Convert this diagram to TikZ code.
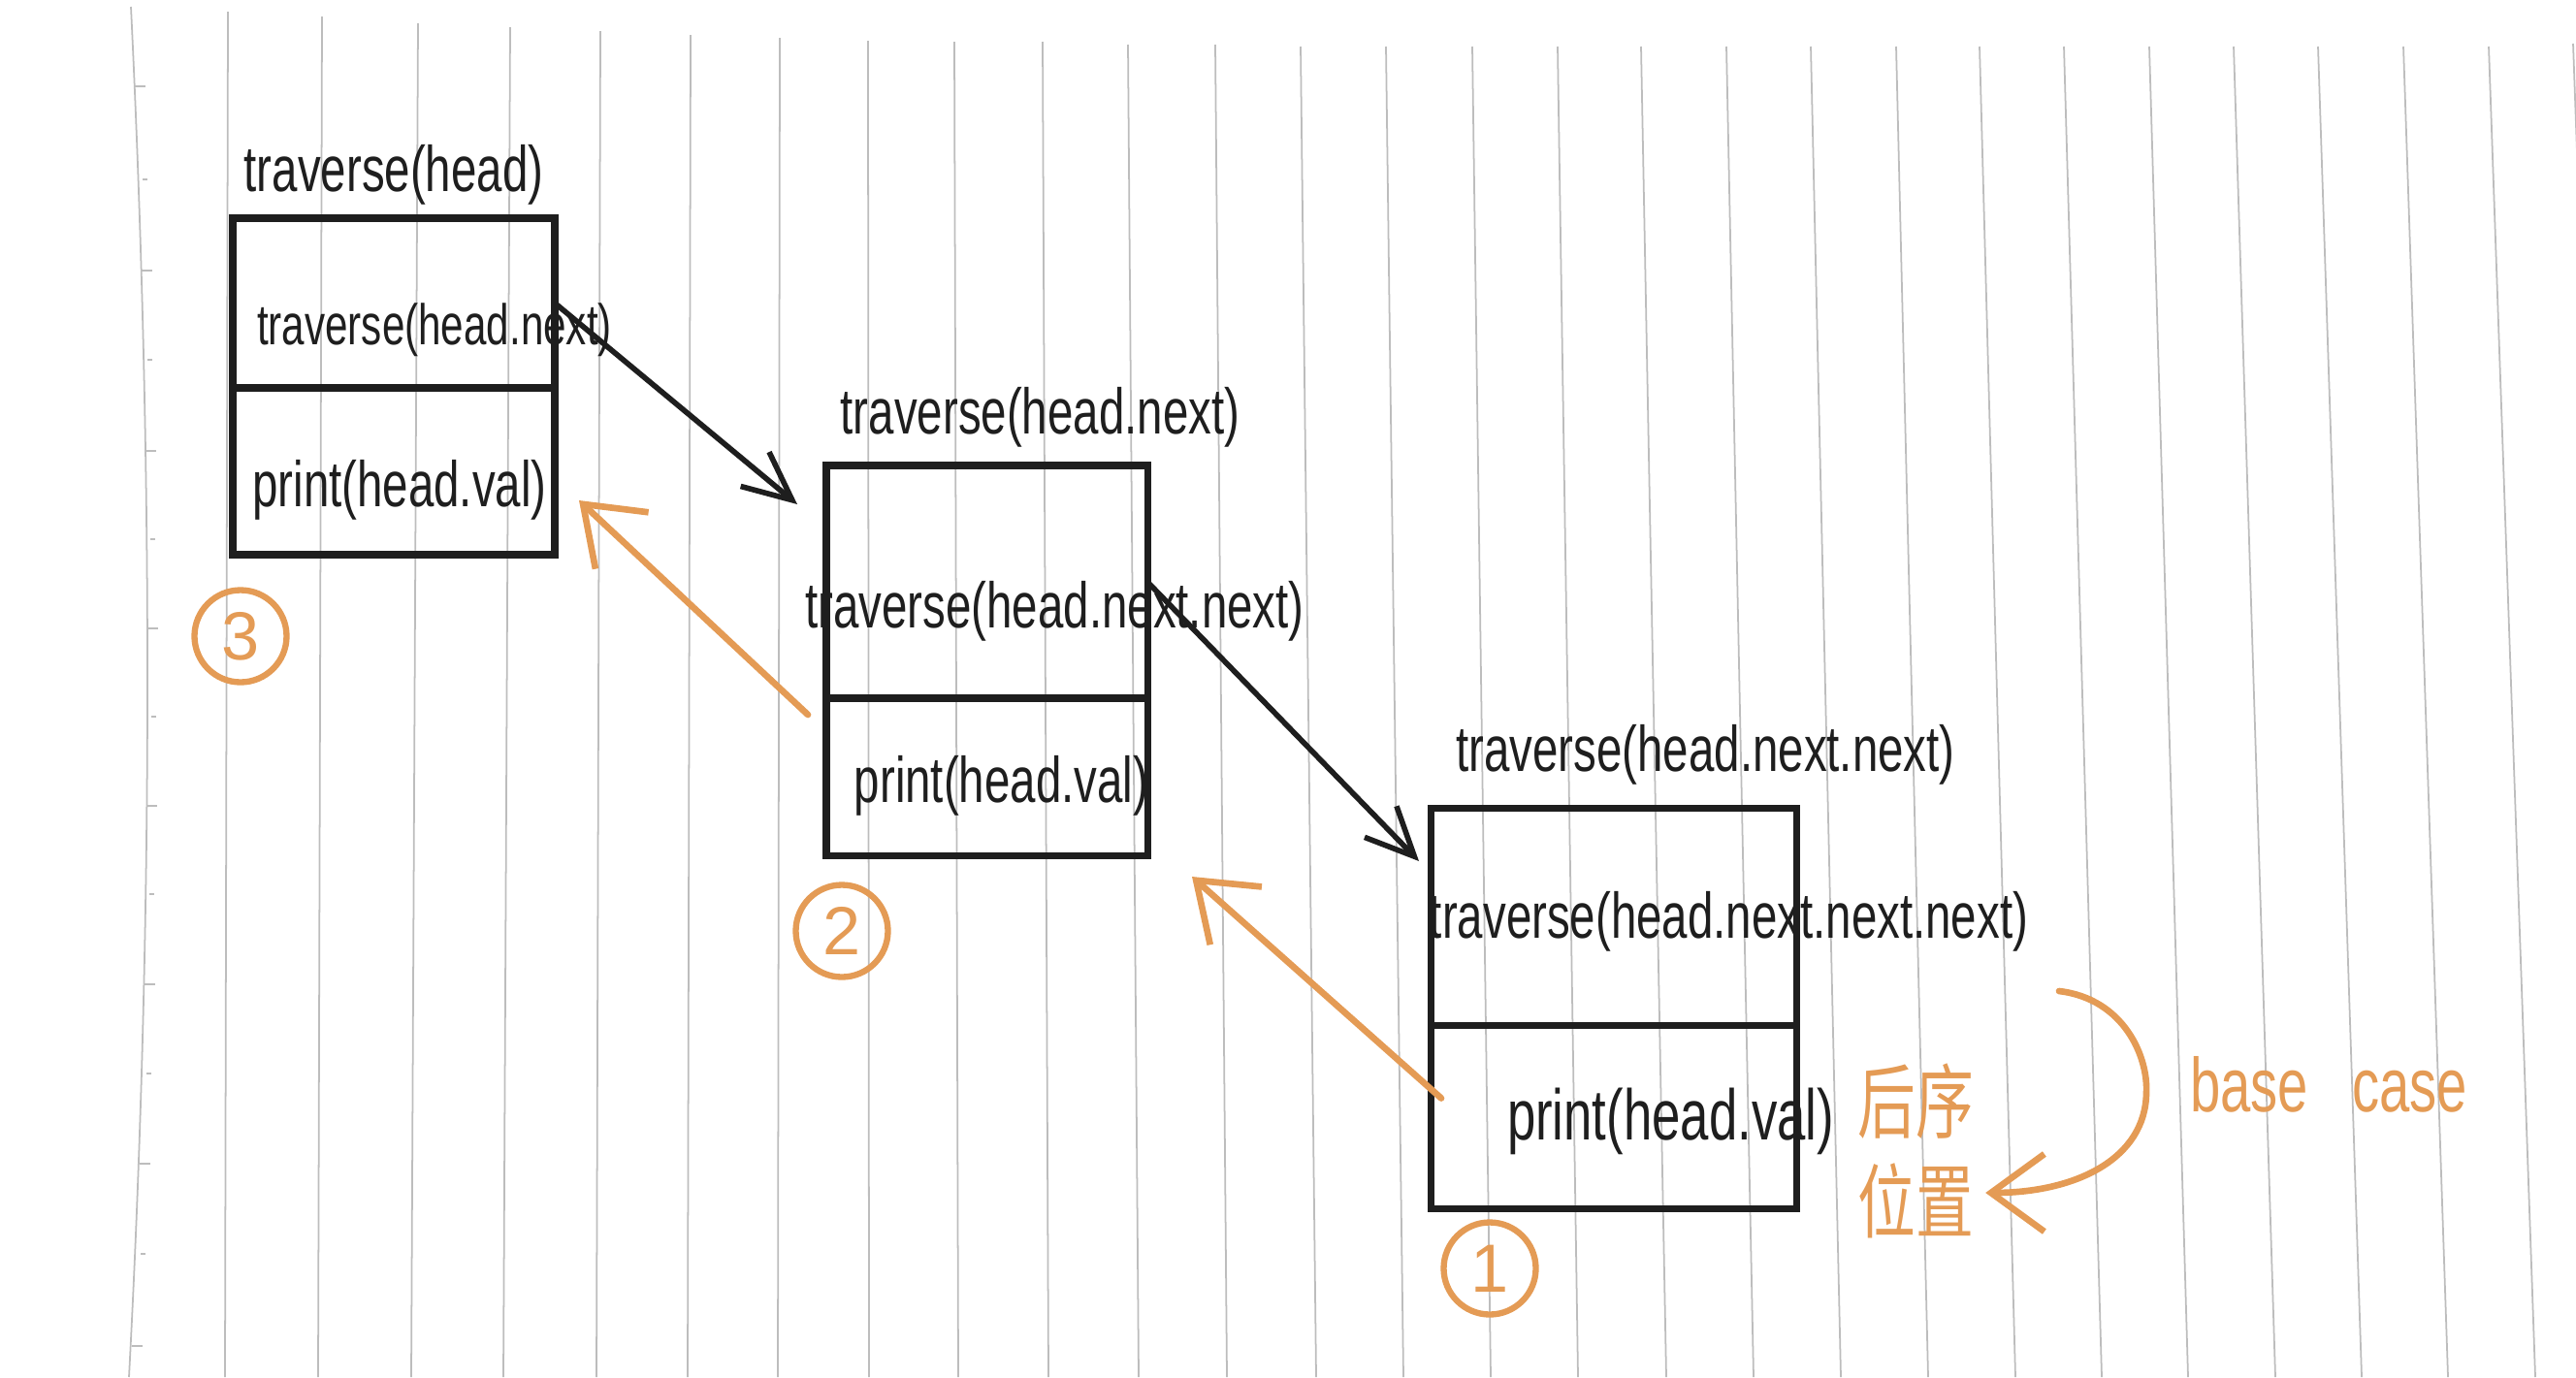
\documentclass[tikz,border=0pt]{standalone}
\usepackage{fontspec}
\setmainfont{Liberation Sans}
\newfontfamily\cjk{Noto Sans CJK SC}
\usetikzlibrary{arrows.meta,positioning}
\definecolor{Ink}{HTML}{1E1E1E}
\definecolor{Marker}{HTML}{E49B55}
\definecolor{Rule}{HTML}{BDBDBD}

\begin{document}
\begin{tikzpicture}[x=1cm,y=-1cm]
  \tikzset{
    rule/.style={draw=Rule, line width=0.5pt},
    cellbox/.style={draw=Ink, line width=2pt, inner sep=0pt, outer sep=0pt},
    calltext/.style={font=\fontsize{13.5}{16}\selectfont, text=Ink, yscale=1.4, inner sep=0pt},
    ordermark/.style={
      circle,
      draw=Marker,
      line width=1.8pt,
      minimum size=0.95cm,
      inner sep=0pt,
      text=Marker,
      font=\fontsize{20}{22}\selectfont
    },
    callarrow/.style={-{Straight Barb[length=5mm,width=4.6mm]}, line width=1.6pt, draw=Ink, line cap=round},
    backarrow/.style={-{Straight Barb[length=5.5mm,width=8mm]}, line width=1.9pt, draw=Marker, line cap=round},
    note/.style={text=Marker, yscale=1.4}
  }

  \useasboundingbox (0,0) rectangle (26.56,14.2);

  % ruled paper
  \begin{scope}
    \clip (0,0) rectangle (26.56,14.2);
    \draw[rule] (1.35,0.07) .. controls (1.58,4.8) and (1.58,9.5) .. (1.33,14.2);
    \foreach \y/\x in {0.89/1.39, 2.79/1.46, 4.65/1.50, 6.48/1.52, 8.31/1.51, 10.15/1.49, 12.00/1.44, 13.88/1.36}
      \draw[rule] (\x,\y) -- +(0.11,0);
    \foreach \y/\x in {1.85/1.43, 3.71/1.48, 5.56/1.51, 7.39/1.52, 9.22/1.50, 11.07/1.47, 12.93/1.41}
      \draw[rule] (\x+0.04,\y) -- +(0.05,0);
    \foreach \xt/\xb/\yt in {2.35/2.32/0.12, 3.32/3.28/0.17, 4.31/4.24/0.24, 5.26/5.19/0.28,
        6.19/6.15/0.32, 7.12/7.09/0.36, 8.04/8.02/0.39, 8.95/8.96/0.42, 9.84/9.88/0.43,
        10.75/10.81/0.43, 11.63/11.74/0.46, 12.53/12.65/0.46, 13.41/13.57/0.48,
        14.29/14.47/0.48, 15.18/15.37/0.48, 16.06/16.27/0.48, 16.92/17.18/0.48,
        17.80/18.08/0.48, 18.67/18.98/0.48, 19.55/19.88/0.48, 20.41/20.78/0.48,
        21.28/21.67/0.48, 22.16/22.56/0.48, 23.03/23.46/0.48, 23.90/24.35/0.48,
        24.78/25.24/0.48, 25.66/26.14/0.48, 26.53/27.02/0.45}
      \draw[rule] (\xt,\yt) -- (\xb,14.2);
  \end{scope}

  % stack frames
  \node[cellbox, minimum width=3.32cm, minimum height=1.75cm] (call1) at (4.06,3.125) {};
  \node[cellbox, minimum width=3.32cm, minimum height=1.72cm, below=0pt of call1] (print1) {};

  \node[cellbox, minimum width=3.31cm, minimum height=2.40cm] (call2) at (10.175,6.00) {};
  \node[cellbox, minimum width=3.31cm, minimum height=1.62cm, below=0pt of call2] (print2) {};

  \node[cellbox, minimum width=3.77cm, minimum height=2.24cm] (call3) at (16.635,9.45) {};
  \node[cellbox, minimum width=3.77cm, minimum height=1.89cm, below=0pt of call3] (print3) {};

  \node[calltext] (head1) at ([yshift=4.5mm]call1.north) {traverse(head)};
  \node[calltext, font=\fontsize{12}{14}\selectfont] (rec1) at ([xshift=4.2mm,yshift=-2.75mm]call1.center) {traverse(head.next)};
  \node[calltext] (out1) at ([xshift=0.6mm,yshift=-1.9mm]print1.center) {print(head.val)};

  \node[calltext] (head2) at ([xshift=5.5mm,yshift=5mm]call2.north) {traverse(head.next)};
  \node[calltext] (rec2) at ([xshift=7mm,yshift=-3mm]call2.center) {traverse(head.next.next)};
  \node[calltext] (out2) at ([xshift=1.5mm,yshift=-0.9mm]print2.center) {print(head.val)};

  \node[calltext] (head3) at ([xshift=9.5mm,yshift=5.5mm]call3.north) {traverse(head.next.next)};
  \node[calltext] (rec3) at ([xshift=11.9mm,yshift=-0.5mm]call3.center) {traverse(head.next.next.next)};
  \node[calltext, font=\fontsize{15}{17}\selectfont] (out3) at ([xshift=5.9mm,yshift=-0.5mm]print3.center) {print(head.val)};

  % order of printing
  \node[ordermark] (order3) at (2.48,6.56) {3};
  \node[ordermark] (order2) at (8.68,9.60) {2};
  \node[ordermark] (order1) at (15.36,13.08) {1};

  % calls going down
  \draw[callarrow] (call1.east) -- ([xshift=-3mm,yshift=-4mm]call2.north west);
  \draw[callarrow] (call2.east) -- ([xshift=-1.2mm,yshift=-5.5mm]call3.north west);

  % returns going back up
  \draw[backarrow] ([xshift=-1.9mm,yshift=6.4mm]print2.west) -- ([xshift=2.5mm,yshift=-3mm]print1.east);
  \draw[backarrow] ([xshift=1.1mm,yshift=1.9mm]print3.west) -- ([xshift=4.6mm,yshift=-2.2mm]print2.south east);

  \node[note, font=\cjk\fontsize{17}{21}\selectfont, align=center] (postpos) at (19.75,11.87) {后序\\位置};
  \node[note, font=\fontsize{16}{18}\selectfont] (basecase) at (24.01,11.18) {base\hspace{0.45cm}case};

  \coordinate (bcstart) at (21.23,10.22);
  \draw[backarrow] (bcstart) .. controls (21.90,10.30) and (22.15,10.90) .. (22.13,11.27)
    .. controls (22.12,11.95) and (21.40,12.30) .. ([yshift=-4.3mm]postpos.east);
\end{tikzpicture}
\end{document}
